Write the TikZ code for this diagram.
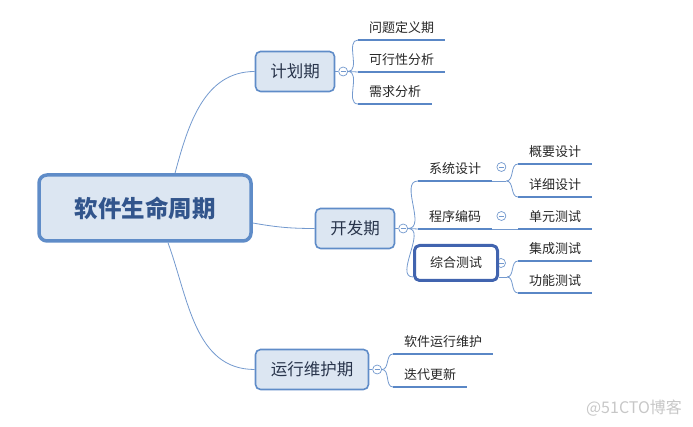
\documentclass[tikz,border=0pt]{standalone}
\usepackage{fontspec}
\setmainfont{Noto Sans CJK SC}
\usetikzlibrary{positioning}
\definecolor{boxfill}{RGB}{220,230,242}
\definecolor{boxline}{RGB}{95,140,200}
\definecolor{boxtext}{RGB}{40,52,75}
\definecolor{roottext}{RGB}{50,85,140}
\definecolor{ucol}{RGB}{90,135,198}
\definecolor{lcol}{RGB}{115,153,206}
\definecolor{selline}{RGB}{65,100,175}
\tikzset{
	root/.style={draw=boxline,fill=boxfill,rounded corners=8pt,line width=3.5pt,minimum width=212pt,minimum height=66pt,font=\fontsize{23.5}{26}\selectfont\bfseries,text=roottext},
	topic/.style={draw=boxline,fill=boxfill,rounded corners=5pt,line width=1.6pt,minimum height=40pt,font=\fontsize{16.5}{18}\selectfont,text=boxtext},
	sub/.style={anchor=south west,inner xsep=11pt,inner ysep=5pt,text height=10pt,text depth=2pt,font=\fontsize{13}{15}\selectfont,text=black!85},
	sel/.style={draw=selline,fill=white,rounded corners=5pt,line width=3pt,minimum width=83pt,minimum height=35pt,font=\fontsize{13}{15}\selectfont,text=black!85},
	uline/.style={draw=ucol,line width=2.6pt},
	link/.style={draw=lcol,line width=.8pt},
	fold/.style={circle,draw=lcol,fill=white,line width=.7pt,minimum size=9pt,inner sep=0pt,
		path picture={\draw[lcol,line width=.7pt] ([xshift=-2.5pt]path picture bounding box.center)--([xshift=2.5pt]path picture bounding box.center);}}
}
\begin{document}
\begin{tikzpicture}[x=1pt,y=1pt,line join=round]
	\useasboundingbox (0,0) rectangle (693,427);
	% main topics
	\node[root] (root) at (145,219) {软件生命周期};
	\node[topic,minimum width=79pt] (jh) at (295,355.5) {计划期};
	\node[topic,minimum width=79pt] (kf) at (355,198.5) {开发期};
	\node[topic,minimum width=113pt] (yw) at (312,57.5) {运行维护期};
	\draw[link] ([xshift=30pt]root.north) to[out=75,in=180] (jh.west);
	\draw[link] ([yshift=-15pt]root.east) to[out=-10,in=180] (kf.west);
	\draw[link] ([xshift=23pt]root.south) to[out=-70,in=180] (yw.west);
	\node[fold,right=3pt of jh] (jh-f) {};
	\node[fold,right=3pt of kf] (kf-f) {};
	\node[fold,right=3pt of yw] (yw-f) {};
	\draw[link] (jh.east)--(jh-f.west);
	\draw[link] (kf.east)--(kf-f.west);
	\draw[link] (yw.east)--(yw-f.west);
	% 计划期
	\foreach \n/\y/\t in {wt/387/问题定义期,kx/355/可行性分析,xq/323/需求分析}{
		\node[sub] (\n) at (358,\y) {\t};
		\draw[uline] (\n.south west)--(\n.south east);
		\draw[link] (jh-f.east) to[out=0,in=180] (\n.south west);
	}
	% 开发期
	\node[sub] (xt) at (418,246) {系统设计};
	\node[sub] (bm) at (418,198) {程序编码};
	\node[fold] (zh-f) at (501,164) {};
	\node[sel] (zh) at (456,164) {综合测试};
	\foreach \n in {xt,bm}{
		\draw[uline] (\n.south west)--(\n.south east);
		\draw[link] (kf-f.east) to[out=0,in=180] (\n.south west);
	}
	\draw[link] (kf-f.east) to[out=0,in=180] ([yshift=5pt]zh.south west);
	\node[fold] (xt-f) at ([xshift=9pt,yshift=14pt]xt.south east) {};
	\node[fold] (bm-f) at ([xshift=9pt,yshift=13pt]bm.south east) {};
	\draw[link] (xt.south east)--++(14,0) coordinate (xt-r);
	\draw[link] ([yshift=5pt]zh.south east)--++(8,0) coordinate (zh-r);
	\foreach \n/\y/\t/\p in {gy/263/概要设计/xt-r,xx/230/详细设计/xt-r,jc/166/集成测试/zh-r,gn/134/功能测试/zh-r}{
		\node[sub] (\n) at (518,\y) {\t};
		\draw[uline] (\n.south west)--(\n.south east);
		\draw[link] (\p) to[out=0,in=180] (\n.south west);
	}
	\node[sub] (dy) at (518,198) {单元测试};
	\draw[uline] (dy.south west)--(dy.south east);
	\draw[link] (bm.south east)--(dy.south west);
	% 运行维护期
	\foreach \n/\y/\t in {rj/73/软件运行维护,dd/40/迭代更新}{
		\node[sub] (\n) at (393,\y) {\t};
		\draw[uline] (\n.south west)--(\n.south east);
		\draw[link] (yw-f.east) to[out=0,in=180] (\n.south west);
	}
	\node[text=black!22,font=\fontsize{16}{18}\selectfont] (wm) at (634,19) {@51CTO博客};
\end{tikzpicture}
\end{document}
